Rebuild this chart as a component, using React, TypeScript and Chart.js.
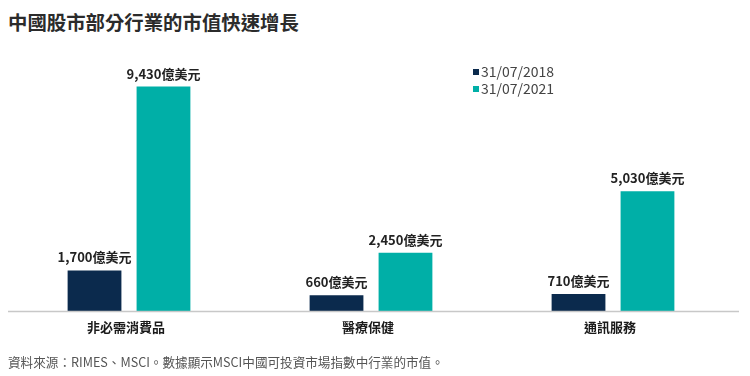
import React, { useEffect, useRef } from "react";
import { Chart, registerables } from "chart.js";

Chart.register(...registerables);

const title = "中國股市部分行業的市值快速增長";
const footnote = "資料來源：RIMES、MSCI。數據顯示MSCI中國可投資市場指數中行業的市值。";
const categories = ["非必需消費品", "醫療保健", "通訊服務"];
const seriesNames = ["31/07/2018", "31/07/2021"];
const values2018 = [1700, 660, 710];
const values2021 = [9430, 2450, 5030];
const unit = "億美元";
const colors = ["#0b2a4d", "#00afa7"];

const FONT = "'Noto Sans CJK TC', 'Noto Sans', sans-serif";

export default function App() {
  const ref = useRef<HTMLCanvasElement | null>(null);

  useEffect(() => {
    if (!ref.current) return;
    const overlay = {
      id: "overlay",
      afterDatasetsDraw(chart: any) {
        const ctx = chart.ctx;
        const area = chart.chartArea;
        ctx.save();
        // axis line
        ctx.strokeStyle = "#c8c8c8";
        ctx.lineWidth = 1.5;
        ctx.beginPath();
        ctx.moveTo(8, area.bottom + 0.5);
        ctx.lineTo(739, area.bottom + 0.5);
        ctx.stroke();
        // value labels
        ctx.font = `bold 13px ${FONT}`;
        ctx.fillStyle = "#222";
        ctx.textAlign = "center";
        ctx.textBaseline = "middle";
        chart.data.datasets.forEach((ds: any, di: number) => {
          const meta = chart.getDatasetMeta(di);
          meta.data.forEach((el: any, i: number) => {
            const v = ds.data[i];
            ctx.fillText(v.toLocaleString("en-US") + unit, el.x, el.y - 13);
          });
        });
        // category labels
        const xs = chart.scales.x;
        ctx.font = `bold 13px ${FONT}`;
        ctx.fillStyle = "#1a1a1a";
        categories.forEach((c, i) => {
          ctx.fillText(c, xs.getPixelForValue(i) - 3, area.bottom + 16);
        });
        // legend
        ctx.font = `14px ${FONT}`;
        ctx.textAlign = "left";
        ctx.fillStyle = "#444";
        seriesNames.forEach((n, i) => {
          const y = 72 + i * 17;
          ctx.fillStyle = colors[i];
          ctx.fillRect(473, y - 3, 6, 6);
          ctx.fillStyle = "#444";
          ctx.fillText(n, 481, y);
        });
        ctx.restore();
      },
    };
    const chart = new Chart(ref.current, {
      type: "bar",
      data: {
        labels: categories,
        datasets: [
          { label: seriesNames[0], data: values2018, backgroundColor: colors[0] },
          { label: seriesNames[1], data: values2021, backgroundColor: colors[1] },
        ],
      },
      options: {
        responsive: false,
        animation: false,
        layout: { padding: { left: 8, right: 16, top: 73, bottom: 65 } },
        plugins: { legend: { display: false }, tooltip: { enabled: false } },
        datasets: { bar: { categoryPercentage: 0.57, barPercentage: 0.78 } },
        scales: {
          x: { display: false },
          y: { display: false, min: 0, max: 10000 },
        },
      },
      plugins: [overlay],
    });
    return () => chart.destroy();
  }, []);

  return (
    <div style={{ position: "fixed", left: 0, top: 0, width: 750, height: 376, background: "#fff" }}>
      <div
        style={{
          position: "absolute",
          left: 8,
          top: 8,
          fontFamily: FONT,
          fontWeight: "bold",
          fontSize: 19.4,
          color: "#2b2b2b",
          lineHeight: "28px",
          whiteSpace: "nowrap",
        }}
      >
        {title}
      </div>
      <canvas ref={ref} width={750} height={376} style={{ position: "absolute", left: 0, top: 0 }} />
      <div
        style={{
          position: "absolute",
          left: 8,
          top: 353,
          fontFamily: FONT,
          fontSize: 12.6,
          color: "#555",
          lineHeight: "18px",
          whiteSpace: "nowrap",
        }}
      >
        {footnote}
      </div>
    </div>
  );
}
